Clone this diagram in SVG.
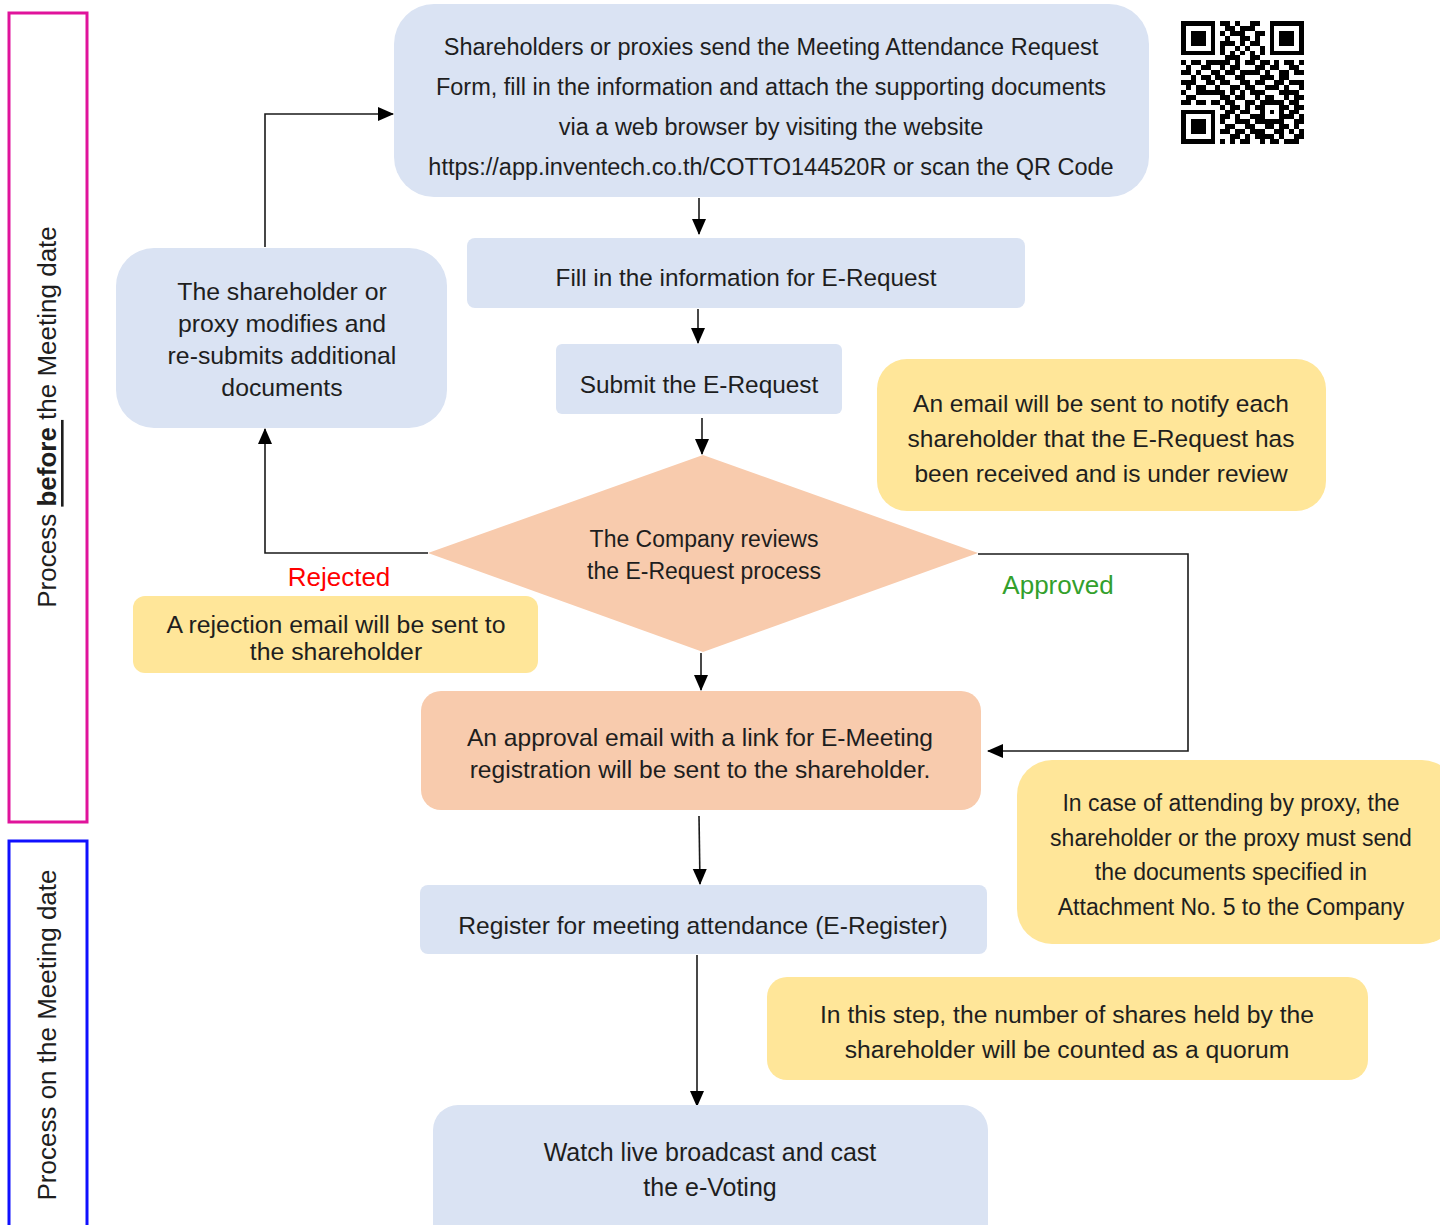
<svg xmlns="http://www.w3.org/2000/svg" width="1440" height="1225" viewBox="0 0 1440 1225">
<defs>
<marker id="arr" markerUnits="userSpaceOnUse" markerWidth="16" markerHeight="16" viewBox="0 0 16 16" refX="15" refY="8" orient="auto">
<path d="M0 1L16 8L0 15z" fill="#000"/>
</marker>
</defs>
<style>
.t{font-family:"Liberation Sans",Arial,sans-serif;fill:#1e1e1e;text-anchor:middle;dominant-baseline:central}
.blue{fill:#dae3f3}
.peach{fill:#f8cbad}
.yel{fill:#ffe699}
.c{fill:none;stroke:#1a1a1a;stroke-width:1.6;marker-end:url(#arr)}
</style>
<rect width="1440" height="1225" fill="#fff"/>
<g id="phase-before">
<rect x="9" y="13" width="78" height="809" fill="none" stroke="#e0139b" stroke-width="3"/>
<text class="t" transform="translate(47 417) rotate(-90)" font-size="26">Process <tspan font-weight="bold" text-decoration="underline">before </tspan>the Meeting date</text>
</g>
<g id="phase-on">
<rect x="9" y="841" width="78" height="400" fill="none" stroke="#1010ff" stroke-width="3"/>
<text class="t" transform="translate(47 1035) rotate(-90)" font-size="26">Process on the Meeting date</text>
</g>
<g id="qr" transform="translate(1181 21) scale(4.92)" shape-rendering="crispEdges">
<path fill="#000" fill-rule="evenodd" d="M0 0h7v7h-7zM1 1v5h5v-5zM2 2h3v3h-3zM18 0h7v7h-7zM19 1v5h5v-5zM20 2h3v3h-3zM0 18h7v7h-7zM1 19v5h5v-5zM2 20h3v3h-3z"/>
<path fill="#000" d="M8 0h2v1h-2zM11 0h1v1h-1zM14 0h2v1h-2zM9 1h2v1h-2zM12 1h3v1h-3zM8 2h1v1h-1zM10 2h3v1h-3zM15 2h2v1h-2zM9 3h1v1h-1zM12 3h2v1h-2zM15 3h1v1h-1zM8 4h3v1h-3zM12 4h1v1h-1zM14 4h2v1h-2zM8 5h1v1h-1zM11 5h1v1h-1zM13 5h1v1h-1zM16 5h1v1h-1zM8 6h1v1h-1zM10 6h1v1h-1zM12 6h1v1h-1zM14 6h1v1h-1zM16 6h1v1h-1zM9 7h3v1h-3zM14 7h2v1h-2zM0 8h1v1h-1zM2 8h2v1h-2zM5 8h5v1h-5zM11 8h1v1h-1zM13 8h2v1h-2zM16 8h2v1h-2zM19 8h1v1h-1zM21 8h2v1h-2zM24 8h1v1h-1zM1 9h1v1h-1zM4 9h2v1h-2zM8 9h1v1h-1zM10 9h2v1h-2zM15 9h2v1h-2zM18 9h2v1h-2zM22 9h2v1h-2zM0 10h2v1h-2zM3 10h1v1h-1zM6 10h2v1h-2zM9 10h2v1h-2zM12 10h4v1h-4zM17 10h1v1h-1zM20 10h2v1h-2zM23 10h2v1h-2zM2 11h1v1h-1zM4 11h2v1h-2zM7 11h2v1h-2zM11 11h2v1h-2zM16 11h3v1h-3zM20 11h2v1h-2zM0 12h3v1h-3zM5 12h2v1h-2zM8 12h2v1h-2zM12 12h2v1h-2zM15 12h2v1h-2zM19 12h2v1h-2zM22 12h3v1h-3zM1 13h1v1h-1zM3 13h2v1h-2zM7 13h1v1h-1zM10 13h2v1h-2zM13 13h2v1h-2zM17 13h3v1h-3zM21 13h1v1h-1zM24 13h1v1h-1zM0 14h1v1h-1zM3 14h6v1h-6zM10 14h1v1h-1zM12 14h1v1h-1zM14 14h3v1h-3zM20 14h4v1h-4zM1 15h2v1h-2zM8 15h2v1h-2zM11 15h2v1h-2zM15 15h1v1h-1zM17 15h2v1h-2zM21 15h1v1h-1zM23 15h2v1h-2zM0 16h2v1h-2zM3 16h2v1h-2zM6 16h2v1h-2zM9 16h2v1h-2zM13 16h2v1h-2zM16 16h5v1h-5zM22 16h2v1h-2zM8 17h1v1h-1zM10 17h2v1h-2zM13 17h1v1h-1zM15 17h2v1h-2zM20 17h2v1h-2zM23 17h2v1h-2zM9 18h2v1h-2zM12 18h2v1h-2zM16 18h1v1h-1zM18 18h1v1h-1zM20 18h1v1h-1zM22 18h2v1h-2zM8 19h2v1h-2zM11 19h1v1h-1zM14 19h3v1h-3zM20 19h3v1h-3zM24 19h1v1h-1zM8 20h1v1h-1zM11 20h3v1h-3zM15 20h6v1h-6zM23 20h2v1h-2zM9 21h2v1h-2zM13 21h2v1h-2zM17 21h2v1h-2zM20 21h2v1h-2zM23 21h1v1h-1zM8 22h2v1h-2zM11 22h2v1h-2zM14 22h3v1h-3zM19 22h2v1h-2zM22 22h1v1h-1zM24 22h1v1h-1zM10 23h2v1h-2zM13 23h1v1h-1zM15 23h4v1h-4zM20 23h1v1h-1zM23 23h2v1h-2zM8 24h1v1h-1zM10 24h1v1h-1zM12 24h2v1h-2zM16 24h1v1h-1zM18 24h2v1h-2zM21 24h3v1h-3z"/>
</g>
<g id="connectors">
<path class="c" d="M699 198V234"/>
<path class="c" d="M698 309V343"/>
<path class="c" d="M702 418V454"/>
<path class="c" d="M701 653V690"/>
<path class="c" d="M699 816L700 884"/>
<path class="c" d="M697 955V1106"/>
<path class="c" d="M428 553H265V429"/>
<path class="c" d="M265 247V114H393"/>
<path class="c" d="M978 554H1188V751H988"/>
</g>
<g id="n-request-form">
<rect class="blue" x="394" y="4" width="755" height="193" rx="40"/>
<text class="t" font-size="23.5" x="771" y="47">Shareholders or proxies send the Meeting Attendance Request</text>
<text class="t" font-size="23.5" x="771" y="87">Form, fill in the information and attach the supporting documents</text>
<text class="t" font-size="23.5" x="771" y="127">via a web browser by visiting the website</text>
<text class="t" font-size="23.5" x="771" y="167">https://app.inventech.co.th/COTTO144520R or scan the QR Code</text>
</g>
<g id="n-fill">
<rect class="blue" x="467" y="238" width="558" height="70" rx="8"/>
<text class="t" font-size="24.3" x="746" y="277">Fill in the information for E-Request</text>
</g>
<g id="n-submit">
<rect class="blue" x="556" y="344" width="286" height="70" rx="6"/>
<text class="t" font-size="24.4" x="699" y="384">Submit the E-Request</text>
</g>
<g id="n-modify">
<rect class="blue" x="116" y="248" width="331" height="180" rx="38"/>
<text class="t" font-size="24.8" x="282" y="291">The shareholder or</text>
<text class="t" font-size="24.8" x="282" y="323">proxy modifies and</text>
<text class="t" font-size="24.8" x="282" y="355">re-submits additional</text>
<text class="t" font-size="24.8" x="282" y="387">documents</text>
</g>
<g id="n-received-note">
<rect class="yel" x="877" y="359" width="449" height="152" rx="30"/>
<text class="t" font-size="24.5" x="1101" y="403">An email will be sent to notify each</text>
<text class="t" font-size="24.5" x="1101" y="438">shareholder that the E-Request has</text>
<text class="t" font-size="24.5" x="1101" y="473">been received and is under review</text>
</g>
<g id="n-review">
<path class="peach" d="M428 553L703 455L978 553L703 652z"/>
<text class="t" font-size="23" x="704" y="539">The Company reviews</text>
<text class="t" font-size="23" x="704" y="571">the E-Request process</text>
</g>
<g id="lbl-rejected">
<text class="t" font-size="26" x="339" y="577" style="fill:#ff0000">Rejected</text>
</g>
<g id="lbl-approved">
<text class="t" font-size="26" x="1058" y="585" style="fill:#33a02c">Approved</text>
</g>
<g id="n-rejection-note">
<rect class="yel" x="133" y="596" width="405" height="77" rx="12"/>
<text class="t" font-size="24.8" x="336" y="624">A rejection email will be sent to</text>
<text class="t" font-size="24.8" x="336" y="651">the shareholder</text>
</g>
<g id="n-approval">
<rect class="peach" x="421" y="691" width="560" height="119" rx="20"/>
<text class="t" font-size="24.6" x="700" y="737">An approval email with a link for E-Meeting</text>
<text class="t" font-size="24.6" x="700" y="769">registration will be sent to the shareholder.</text>
</g>
<g id="n-proxy-note">
<rect class="yel" x="1017" y="760" width="440" height="184" rx="35"/>
<text class="t" font-size="23" x="1231" y="803">In case of attending by proxy, the</text>
<text class="t" font-size="23" x="1231" y="838">shareholder or the proxy must send</text>
<text class="t" font-size="23" x="1231" y="872">the documents specified in</text>
<text class="t" font-size="23" x="1231" y="907">Attachment No. 5 to the Company</text>
</g>
<g id="n-register">
<rect class="blue" x="420" y="885" width="567" height="69" rx="8"/>
<text class="t" font-size="24.6" x="703" y="925">Register for meeting attendance (E-Register)</text>
</g>
<g id="n-quorum-note">
<rect class="yel" x="767" y="977" width="601" height="103" rx="20"/>
<text class="t" font-size="24.7" x="1067" y="1014">In this step, the number of shares held by the</text>
<text class="t" font-size="24.7" x="1067" y="1049">shareholder will be counted as a quorum</text>
</g>
<g id="n-watch">
<rect class="blue" x="433" y="1105" width="555" height="150" rx="25"/>
<text class="t" font-size="25" x="710" y="1152">Watch live broadcast and cast</text>
<text class="t" font-size="25" x="710" y="1187">the e-Voting</text>
</g>
</svg>
